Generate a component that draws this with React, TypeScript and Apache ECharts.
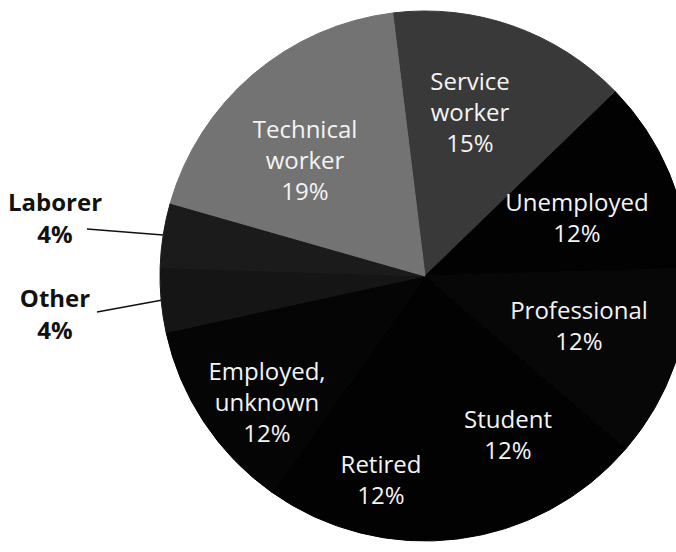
import React, { useEffect, useRef } from "react";
import * as echarts from "echarts";

// Data (clockwise, starting just left of 12 o'clock)
const categories = [
  "Service worker",
  "Unemployed",
  "Professional",
  "Student",
  "Retired",
  "Employed, unknown",
  "Other",
  "Laborer",
  "Technical worker",
];
const labelNames = [
  "Service\nworker",
  "Unemployed",
  "Professional",
  "Student",
  "Retired",
  "Employed,\nunknown",
  "Other",
  "Laborer",
  "Technical\nworker",
];
const percents = [15, 12, 12, 12, 12, 12, 4, 4, 19];

// Styles / positions (kept apart from the data)
const sliceColors = [
  "#393939",
  "#020202",
  "#070707",
  "#020202",
  "#020202",
  "#050505",
  "#151515",
  "#1b1b1b",
  "#737373",
];
const outsideIdx = [6, 7];
const labelCenters: [number, number][] = [
  [470, 111],
  [577, 217],
  [579, 325],
  [508, 434],
  [381, 479],
  [267, 401],
  [55, 313],
  [55, 217],
  [305, 159],
];
const lineEnds: Record<number, [number, number]> = {
  6: [97, 312],
  7: [87, 229],
};

export default function App() {
  const ref = useRef<HTMLDivElement>(null);
  useEffect(() => {
    if (!ref.current) return;
    const chart = echarts.init(ref.current, undefined, { renderer: "svg" });
    const data = categories.map((name, i) => {
      const outside = outsideIdx.includes(i);
      return {
        name,
        value: percents[i],
        itemStyle: { color: sliceColors[i], borderColor: sliceColors[i], borderWidth: 1 },
        label: outside
          ? {
              position: "outside",
              color: "#111",
              fontWeight: "bold",
              fontSize: 24,
              lineHeight: 32,
              fontFamily: "Open Sans",
            }
          : { position: "inside" },
        labelLine: outside
          ? { show: true, length: 70, length2: 0, lineStyle: { color: "#111", width: 1.5 } }
          : { show: false },
      };
    });
    chart.setOption({
      animation: false,
      backgroundColor: "#ffffff",
      series: [
        {
          type: "pie",
          center: [425, 276],
          radius: [0, 265],
          startAngle: 97,
          clockwise: true,
          avoidLabelOverlap: false,
          silent: true,
          data,
          label: {
            show: true,
            color: "#f4f4f4",
            fontFamily: "Open Sans",
            fontSize: 24,
            lineHeight: 31,
            align: "center",
            formatter: (p: any) => `${labelNames[p.dataIndex]}\n${p.value}%`,
          },
          labelLine: { show: false },
          labelLayout: (params: any) => {
            const i = params.dataIndex;
            const [x, y] = labelCenters[i];
            const res: any = { x, y, align: "center", verticalAlign: "middle" };
            if (lineEnds[i] && params.labelLinePoints) {
              const start = params.labelLinePoints[0];
              const end = lineEnds[i];
              res.labelLinePoints = [start, end, end];
            }
            return res;
          },
        },
      ],
    });
    return () => chart.dispose();
  }, []);
  return (
    <div
      ref={ref}
      style={{ position: "fixed", left: 0, top: 0, width: 676, height: 552 }}
    />
  );
}
